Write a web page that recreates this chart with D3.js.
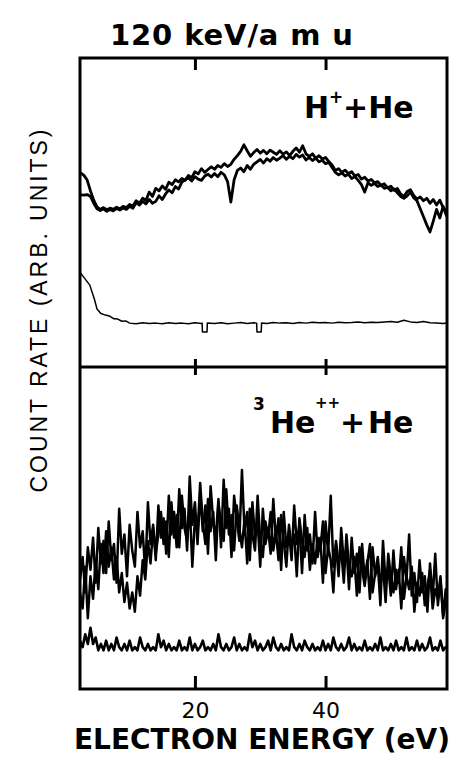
<!DOCTYPE html>
<html>
<head>
<meta charset="utf-8">
<script src="https://cdn.jsdelivr.net/npm/d3@7"></script>
<style>
  body { margin: 0; background: #fff; }
  svg { display: block; }
  .trace { fill: none; stroke: #000; stroke-linejoin: round; stroke-linecap: round; }
  .tick line { stroke: #000; stroke-width: 3; }
</style>
</head>
<body>
<div id="chart"></div>
<script>
// ---- data (arbitrary count-rate units, 0-100 per panel) ----
const tickEnergies = [20, 40];

// H+ + He, two runs on a 0.5 eV grid starting at 2.5 eV
const hRunA = [
  62.8, 62.0, 60.5, 57.0, 54.0, 51.8, 51.0, 51.6, 50.9, 51.4,
  51.0, 51.7, 51.2, 52.0, 51.6, 52.6, 52.1, 53.8, 53.0, 54.6,
  53.9, 56.6, 55.2, 57.8, 57.0, 58.6, 57.5, 59.8, 59.0, 60.6,
  59.9, 61.0, 60.4, 62.0, 61.3, 63.2, 62.5, 64.2, 63.0, 63.9,
  64.8, 64.0, 65.2, 64.6, 65.8, 64.9, 65.6, 67.2, 68.4, 69.8,
  71.9, 70.0, 68.2, 69.4, 70.4, 69.2, 70.1, 69.0, 70.2, 69.5,
  68.8, 70.0, 68.9, 69.6, 68.4, 69.8, 70.9, 69.5, 71.6, 69.0,
  68.2, 69.0, 67.5, 68.4, 67.3, 67.8, 66.5, 65.4, 63.6, 64.2,
  63.0, 63.7, 62.6, 63.2, 61.8, 62.3, 60.8, 61.4, 60.2, 60.7,
  59.6, 60.0, 58.8, 59.3, 58.0, 58.5, 57.2, 57.8, 56.0, 55.2,
  56.8, 57.4, 55.5, 54.4, 55.0, 53.8, 54.6, 53.0, 54.2, 52.4,
  54.0, 51.6, 50.5
];
const hRunB = [
  55.7, 55.6, 55.8, 55.2, 53.0, 51.2, 50.6, 51.2, 50.4, 51.0,
  50.5, 51.3, 50.8, 51.5, 51.0, 52.0, 51.4, 53.2, 52.4, 53.6,
  52.8, 54.2, 53.0, 53.6, 55.4, 54.2, 56.0, 57.3, 56.4, 58.4,
  57.6, 59.8, 60.6, 61.2, 60.2, 61.6, 60.8, 60.4, 61.8, 62.4,
  61.5, 62.6, 61.6, 63.0, 62.2, 60.0, 53.4, 60.6, 63.6, 64.4,
  63.2, 65.2, 64.0, 65.6, 66.4, 67.2, 66.0, 67.4, 66.6, 67.8,
  66.9, 67.6, 68.4, 67.2, 68.2, 67.4, 68.8, 67.9, 68.6, 67.0,
  67.8, 66.8, 67.6, 66.4, 66.9, 65.8, 66.2, 64.6, 63.0, 62.2,
  62.8, 61.8, 62.4, 61.0, 61.6, 60.4, 59.0, 56.6, 59.6, 58.8,
  59.4, 58.4, 58.9, 57.8, 58.2, 57.0, 57.6, 56.4, 55.2, 54.6,
  55.4, 56.6, 54.8, 53.8, 51.2, 48.6, 46.0, 43.7, 47.2, 51.0,
  48.2, 52.0, 49.0
];

// H+ + He background run, [energy eV, count]
const hBackground = [
  [2.4, 30.7], [3.0, 29.0], [3.9, 26.5], [4.6, 22.0], [5.0, 18.8], [5.6, 17.3],
  [6.3, 16.8], [7.0, 16.4], [7.6, 15.6], [8.2, 15.5], [8.8, 14.8], [9.4, 14.9],
  [10, 14.2], [11, 14.0], [12, 14.3], [13, 14.1], [14, 14.2], [15, 14.0],
  [16, 14.3], [17, 14.1], [18, 14.2], [19, 14.0], [20, 14.3], [21, 14.1],
  [21.1, 14.2], [21.15, 11.3], [21.85, 11.3], [21.9, 14.2], [23, 14.1], [24, 14.3],
  [25, 14.0], [26, 14.2], [27, 14.4], [28, 14.1], [29, 14.3], [29.45, 14.2],
  [29.5, 11.3], [30.15, 11.3], [30.2, 14.2], [31, 14.1], [32, 14.4], [33, 14.2],
  [34, 14.3], [35, 14.1], [36, 14.4], [37, 14.2], [38, 14.5], [39, 14.3],
  [40, 14.4], [41, 14.2], [42, 14.5], [43, 14.3], [44, 14.4], [45, 14.6],
  [46, 14.3], [47, 14.5], [48, 14.4], [49, 14.6], [50, 14.7], [51, 14.5],
  [52, 15.1], [53, 14.6], [54, 14.4], [55, 14.7], [56, 14.3], [57, 14.2],
  [58, 14.1], [58.6, 14.2]
];

// 3He++ + He, two runs and background on a 0.4 eV grid starting at 2.4 eV
const heRunC = [
  34, 41, 30, 44, 37, 47, 33, 50, 39, 46,
  36, 52, 40, 45, 33, 56, 42, 48, 35, 51,
  43, 38, 55, 44, 49, 36, 58, 45, 51, 40,
  57, 47, 53, 42, 60, 48, 55, 44, 62, 50,
  56, 43, 66, 51, 58, 45, 61, 49, 57, 42,
  63, 52, 47, 59, 44, 65, 50, 56, 41, 60,
  53, 46, 68, 49, 55, 40, 58, 47, 52, 38,
  56, 45, 50, 42, 59, 46, 53, 37, 55, 44,
  49, 40, 57, 45, 51, 36, 54, 43, 48, 39,
  55, 41, 47, 33, 52, 42, 60, 38, 45, 35,
  50, 39, 44, 31, 47, 36, 42, 30, 45, 34,
  40, 28, 44, 35, 39, 26, 46, 33, 38, 29,
  43, 31, 37, 25, 41, 34, 48, 29, 36, 27,
  40, 30, 35, 24, 39, 28, 42, 26, 34, 23, 31
];
const heRunD = [
  30, 25, 38, 22, 35, 28, 40, 31, 45, 36,
  49, 38, 44, 34, 41, 30, 36, 27, 33, 25,
  30, 24, 35, 29, 40, 34, 46, 39, 50, 42,
  48, 55, 45, 52, 41, 58, 47, 54, 44, 60,
  50, 46, 57, 38, 53, 48, 64, 52, 45, 59,
  49, 55, 40, 58, 51, 46, 62, 48, 54, 43,
  57, 50, 44, 53, 39, 56, 48, 43, 60, 46,
  41, 52, 47, 55, 43, 49, 40, 54, 46, 38,
  51, 44, 48, 35, 53, 46, 41, 50, 37, 45,
  39, 47, 43, 52, 36, 44, 40, 30, 46, 39,
  43, 33, 48, 38, 35, 41, 29, 44, 37, 32,
  39, 45, 30, 36, 41, 32, 38, 27, 42, 35,
  30, 37, 33, 44, 28, 35, 31, 38, 24, 33,
  29, 36, 26, 32, 37, 25, 31, 28, 35, 22, 27
];
const heBackground = [
  15, 13, 17, 14, 19, 14, 16, 12, 14, 12,
  15, 12, 14, 12, 16, 13, 12, 14, 12, 15,
  12, 13, 12, 16, 13, 12, 14, 12, 13, 12,
  17, 13, 15, 12, 14, 12, 13, 12, 15, 12,
  13, 12, 16, 12, 14, 12, 13, 15, 12, 13,
  12, 14, 12, 17, 13, 12, 14, 12, 13, 16,
  12, 14, 12, 13, 12, 17, 13, 15, 12, 14,
  12, 13, 15, 12, 16, 13, 12, 14, 12, 13,
  12, 17, 13, 12, 14, 12, 15, 13, 12, 14,
  12, 13, 12, 15, 12, 14, 12, 16, 13, 12,
  14, 12, 13, 16, 12, 14, 12, 13, 12, 15,
  12, 13, 12, 14, 12, 16, 12, 13, 12, 14,
  12, 15, 12, 13, 12, 16, 12, 13, 12, 15,
  12, 14, 12, 13, 16, 12, 13, 12, 15, 12, 13
];

// ---- layout ----
const width = 457, height = 759;
const margin = {top: 58, right: 10, bottom: 70, left: 80};
const splitY = 367;   // border between the two panels
const letterFont = "'DejaVu Sans', sans-serif";

const svg = d3.select("#chart").append("svg")
    .attr("width", width)
    .attr("height", height);

const x = d3.scaleLinear().domain([2.4, 58.6]).range([margin.left, width - margin.right]);
const yTop = d3.scaleLinear().domain([0, 100]).range([splitY, margin.top]);
const yBot = d3.scaleLinear().domain([0, 100]).range([height - margin.bottom, splitY]);

// grids for the evenly sampled runs
const gridH = hRunA.map((d, i) => 2.5 + 0.5 * i);
const gridHe = heRunC.map((d, i) => 2.4 + 0.4 * i);

// clip each panel so the traces stay inside the frame
const defs = svg.append("defs");
defs.append("clipPath").attr("id", "clipTop").append("rect")
    .attr("x", margin.left).attr("y", margin.top)
    .attr("width", x.range()[1] - margin.left).attr("height", splitY - margin.top);
defs.append("clipPath").attr("id", "clipBot").append("rect")
    .attr("x", margin.left).attr("y", splitY)
    .attr("width", x.range()[1] - margin.left).attr("height", height - margin.bottom - splitY);

function drawTrace(g, xs, ys, yScale, sw) {
    const line = d3.line()
        .x((d, i) => x(xs[i]))
        .y(d => yScale(d));
    g.append("path")
        .datum(ys)
        .attr("class", "trace")
        .attr("stroke-width", sw)
        .attr("d", line);
}

const gTop = svg.append("g").attr("clip-path", "url(#clipTop)");
drawTrace(gTop, gridH, hRunA, yTop, 2.8);
drawTrace(gTop, gridH, hRunB, yTop, 2.8);
drawTrace(gTop, hBackground.map(d => d[0]), hBackground.map(d => d[1]), yTop, 1.5);

const gBot = svg.append("g").attr("clip-path", "url(#clipBot)");
drawTrace(gBot, gridHe, heRunC, yBot, 2.5);
drawTrace(gBot, gridHe, heRunD, yBot, 2.5);
drawTrace(gBot, gridHe, heBackground, yBot, 2.6);

// ---- frame and ticks ----
svg.append("rect")
    .attr("x", margin.left).attr("y", margin.top)
    .attr("width", x.range()[1] - margin.left)
    .attr("height", height - margin.bottom - margin.top)
    .attr("fill", "none").attr("stroke", "#000").attr("stroke-width", 3);
svg.append("line")
    .attr("x1", margin.left).attr("x2", x.range()[1])
    .attr("y1", splitY).attr("y2", splitY)
    .attr("stroke", "#000").attr("stroke-width", 3);

svg.append("g")
    .attr("transform", `translate(0,${margin.top})`)
    .call(d3.axisTop(x).tickValues(tickEnergies).tickSize(-12).tickFormat(""))
    .call(g => g.select(".domain").remove());
svg.append("g")
    .attr("transform", `translate(0,${splitY})`)
    .call(d3.axisBottom(x).tickValues(tickEnergies).tickSize(8).tickFormat(""))
    .call(g => g.select(".domain").remove());
svg.append("g")
    .attr("transform", `translate(0,${splitY})`)
    .call(d3.axisTop(x).tickValues(tickEnergies).tickSize(8).tickFormat(""))
    .call(g => g.select(".domain").remove());
svg.append("g")
    .attr("transform", `translate(0,${height - margin.bottom})`)
    .call(d3.axisBottom(x).tickValues(tickEnergies).tickSize(-13).tickPadding(13).tickFormat(d3.format("d")))
    .call(g => g.select(".domain").remove())
    .call(g => g.selectAll("text")
        .attr("fill", "#000")
        .style("font-family", letterFont)
        .style("font-size", "22px"));

// ---- texts ----
svg.append("text")
    .attr("x", 110).attr("y", 45)
    .attr("textLength", 243).attr("lengthAdjust", "spacing")
    .style("font-family", letterFont)
    .style("font-weight", "bold")
    .style("font-size", "29px")
    .text("120 keV/a m u");

svg.append("text")
    .attr("x", 74).attr("y", 749)
    .attr("textLength", 376).attr("lengthAdjust", "spacingAndGlyphs")
    .style("font-family", letterFont)
    .style("font-weight", "bold")
    .style("font-size", "28px")
    .text("ELECTRON ENERGY (eV)");

svg.append("text")
    .attr("transform", "translate(47,311) rotate(-90)")
    .attr("text-anchor", "middle")
    .attr("textLength", 363).attr("lengthAdjust", "spacing")
    .style("font-family", "'Liberation Sans', Arial, sans-serif")
    .style("font-size", "23px")
    .text("COUNT RATE (ARB. UNITS)");

// panel labels with raised charges
const lab1 = svg.append("text")
    .style("font-family", letterFont)
    .style("font-weight", "bold")
    .style("font-size", "30px");
lab1.append("tspan").attr("x", 304).attr("y", 118).text("H");
lab1.append("tspan").attr("x", 329).attr("y", 103).style("font-size", "17px").text("+");
lab1.append("tspan").attr("x", 343).attr("y", 118).text("+He");

const lab2 = svg.append("text")
    .style("font-family", letterFont)
    .style("font-weight", "bold")
    .style("font-size", "30px");
lab2.append("tspan").attr("x", 253).attr("y", 410).style("font-size", "17px").text("3");
lab2.append("tspan").attr("x", 270).attr("y", 433).text("He");
lab2.append("tspan").attr("x", 315).attr("y", 408).style("font-size", "15px").text("++");
lab2.append("tspan").attr("x", 340).attr("y", 433).text("+");
lab2.append("tspan").attr("x", 368).attr("y", 433).text("He");
</script>
</body>
</html>
